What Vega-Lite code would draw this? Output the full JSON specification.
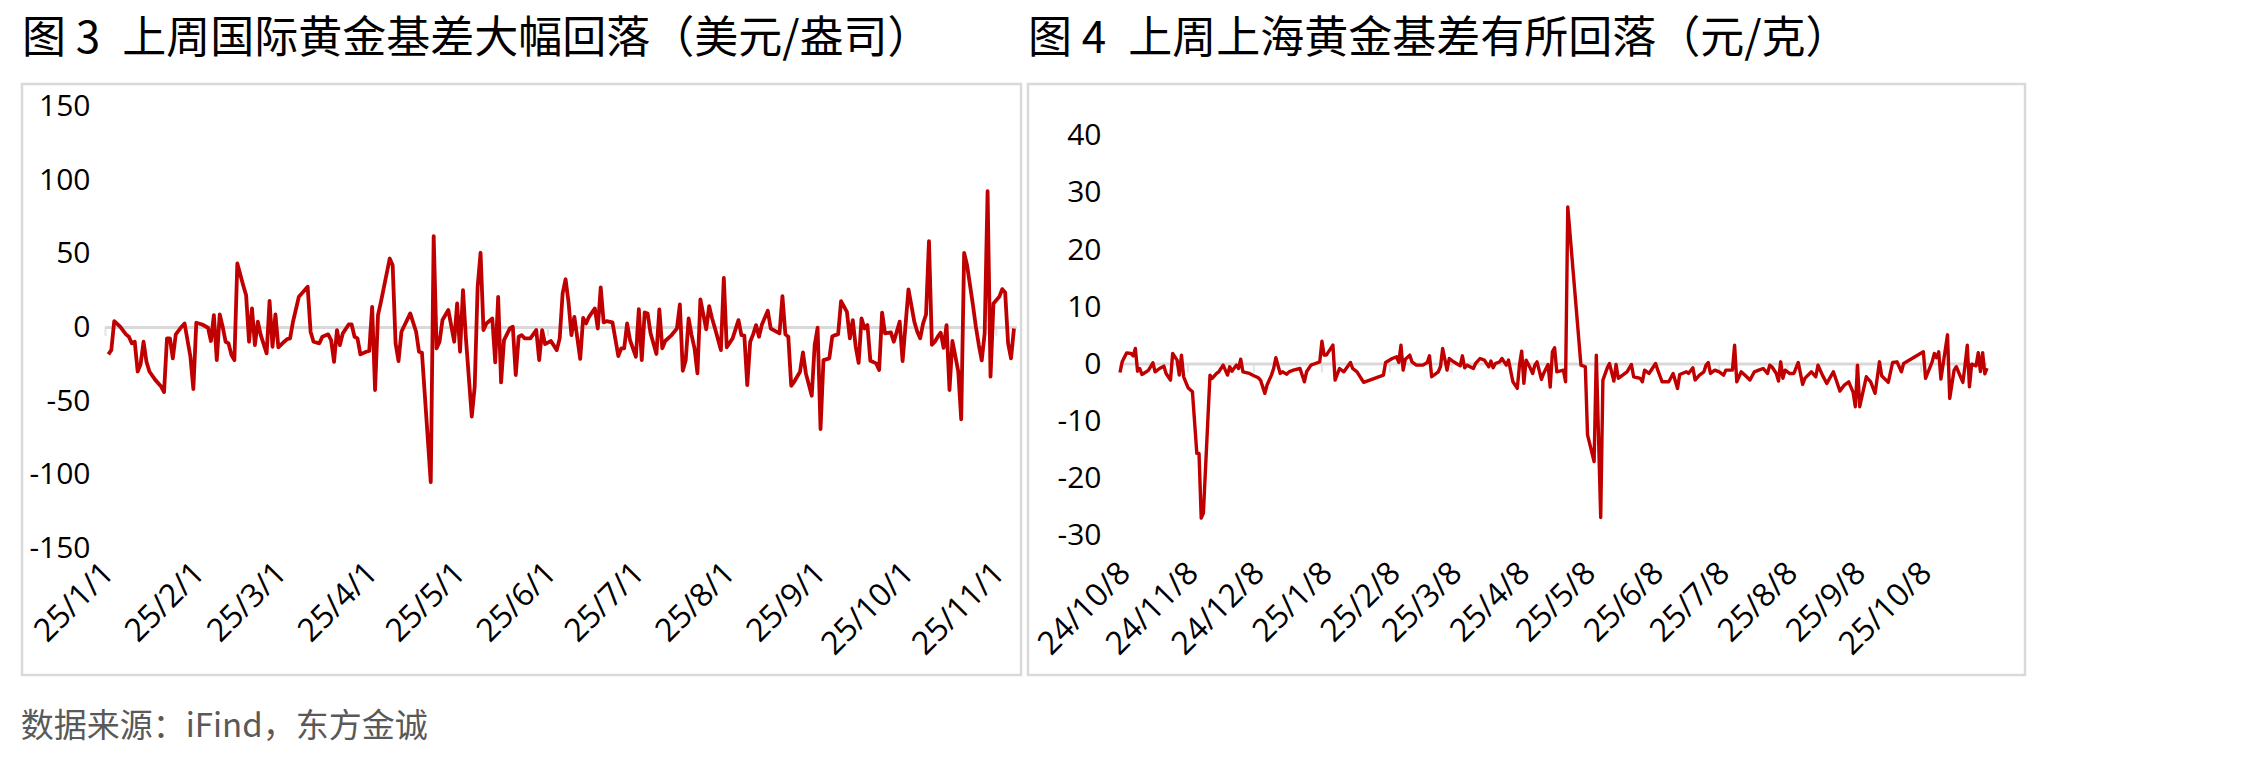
{
  "$schema": "https://vega.github.io/schema/vega-lite/v6.json",
  "background": "white",
  "padding": {"left": 20, "top": 16, "right": 5, "bottom": 5},
  "config": {
    "view": {"stroke": "#d9d9d9", "strokeWidth": 2.5},
    "font": "Noto Sans CJK SC"
  },
  "title": {
    "text": "数据来源：iFind，东方金诚",
    "orient": "bottom",
    "anchor": "start",
    "fontSize": 33,
    "font": "Noto Sans CJK SC",
    "fontWeight": "normal",
    "color": "#595959",
    "offset": 35
  },
  "datasets": {
    "intl": [
      {"date": "2025-01-02", "v": -18.3}, {"date": "2025-01-03", "v": -15.4}, {"date": "2025-01-04", "v": 4.3}, {"date": "2025-01-06", "v": 0.5},
      {"date": "2025-01-08", "v": -4.7}, {"date": "2025-01-09", "v": -6.3}, {"date": "2025-01-10", "v": -10.8}, {"date": "2025-01-11", "v": -9.7},
      {"date": "2025-01-12", "v": -29.9}, {"date": "2025-01-13", "v": -25.0}, {"date": "2025-01-14", "v": -9.7}, {"date": "2025-01-15", "v": -23.3},
      {"date": "2025-01-16", "v": -29.9}, {"date": "2025-01-18", "v": -35.6}, {"date": "2025-01-20", "v": -40.1}, {"date": "2025-01-21", "v": -43.9},
      {"date": "2025-01-22", "v": -7.4}, {"date": "2025-01-23", "v": -7.4}, {"date": "2025-01-24", "v": -21.0}, {"date": "2025-01-25", "v": -4.7},
      {"date": "2025-01-27", "v": 0.5}, {"date": "2025-01-28", "v": 2.7}, {"date": "2025-01-30", "v": -19.9}, {"date": "2025-01-31", "v": -41.8},
      {"date": "2025-02-01", "v": 3.2}, {"date": "2025-02-03", "v": 2.0}, {"date": "2025-02-05", "v": -0.2}, {"date": "2025-02-06", "v": -9.2},
      {"date": "2025-02-07", "v": 8.4}, {"date": "2025-02-08", "v": -22.2}, {"date": "2025-02-09", "v": 8.8}, {"date": "2025-02-10", "v": 0.5},
      {"date": "2025-02-11", "v": -9.7}, {"date": "2025-02-12", "v": -10.8}, {"date": "2025-02-13", "v": -18.7}, {"date": "2025-02-14", "v": -22.2},
      {"date": "2025-02-15", "v": 43.4}, {"date": "2025-02-17", "v": 28.7}, {"date": "2025-02-18", "v": 21.9}, {"date": "2025-02-19", "v": -9.7},
      {"date": "2025-02-20", "v": 12.9}, {"date": "2025-02-21", "v": -12.0}, {"date": "2025-02-22", "v": 3.9}, {"date": "2025-02-23", "v": -5.2},
      {"date": "2025-02-25", "v": -17.6}, {"date": "2025-02-26", "v": 18.1}, {"date": "2025-02-27", "v": -13.1}, {"date": "2025-02-28", "v": 8.8},
      {"date": "2025-03-01", "v": -13.5}, {"date": "2025-03-03", "v": -9.7}, {"date": "2025-03-04", "v": -7.9}, {"date": "2025-03-05", "v": -7.4},
      {"date": "2025-03-06", "v": 3.9}, {"date": "2025-03-08", "v": 20.8}, {"date": "2025-03-11", "v": 27.6}, {"date": "2025-03-12", "v": -2.9},
      {"date": "2025-03-13", "v": -9.7}, {"date": "2025-03-15", "v": -10.8}, {"date": "2025-03-16", "v": -6.3}, {"date": "2025-03-18", "v": -4.7},
      {"date": "2025-03-19", "v": -8.6}, {"date": "2025-03-20", "v": -23.3}, {"date": "2025-03-21", "v": -1.8}, {"date": "2025-03-22", "v": -12.0},
      {"date": "2025-03-23", "v": -4.0}, {"date": "2025-03-25", "v": 2.0}, {"date": "2025-03-26", "v": 2.0}, {"date": "2025-03-27", "v": -6.3},
      {"date": "2025-03-28", "v": -7.4}, {"date": "2025-03-29", "v": -18.3}, {"date": "2025-03-31", "v": -16.5}, {"date": "2025-04-01", "v": -16.0},
      {"date": "2025-04-02", "v": 14.0}, {"date": "2025-04-03", "v": -42.5}, {"date": "2025-04-04", "v": 8.4}, {"date": "2025-04-05", "v": 17.4},
      {"date": "2025-04-08", "v": 46.8}, {"date": "2025-04-09", "v": 42.3}, {"date": "2025-04-10", "v": -10.8}, {"date": "2025-04-11", "v": -22.8},
      {"date": "2025-04-12", "v": -2.9}, {"date": "2025-04-15", "v": 9.5}, {"date": "2025-04-17", "v": -2.9}, {"date": "2025-04-18", "v": -16.5},
      {"date": "2025-04-19", "v": -17.2}, {"date": "2025-04-22", "v": -105.1}, {"date": "2025-04-23", "v": 62.0}, {"date": "2025-04-24", "v": -14.2},
      {"date": "2025-04-25", "v": -9.7}, {"date": "2025-04-26", "v": 5.0}, {"date": "2025-04-28", "v": 11.8}, {"date": "2025-04-30", "v": -9.7},
      {"date": "2025-05-01", "v": 16.3}, {"date": "2025-05-02", "v": -16.5}, {"date": "2025-05-03", "v": 25.4}, {"date": "2025-05-04", "v": -7.4},
      {"date": "2025-05-06", "v": -60.6}, {"date": "2025-05-07", "v": -40.1}, {"date": "2025-05-08", "v": 27.6}, {"date": "2025-05-09", "v": 50.7},
      {"date": "2025-05-10", "v": -1.8}, {"date": "2025-05-11", "v": 2.7}, {"date": "2025-05-13", "v": 6.1}, {"date": "2025-05-14", "v": -23.7},
      {"date": "2025-05-15", "v": 20.8}, {"date": "2025-05-16", "v": -37.3}, {"date": "2025-05-17", "v": -8.6}, {"date": "2025-05-19", "v": -0.7},
      {"date": "2025-05-20", "v": 0.5}, {"date": "2025-05-21", "v": -32.3}, {"date": "2025-05-22", "v": -6.3}, {"date": "2025-05-23", "v": -5.2},
      {"date": "2025-05-24", "v": -7.4}, {"date": "2025-05-26", "v": -7.4}, {"date": "2025-05-28", "v": -1.8}, {"date": "2025-05-29", "v": -22.2},
      {"date": "2025-05-30", "v": -1.8}, {"date": "2025-05-31", "v": -11.3}, {"date": "2025-06-02", "v": -9.2}, {"date": "2025-06-04", "v": -15.4},
      {"date": "2025-06-05", "v": -7.4}, {"date": "2025-06-06", "v": 23.2}, {"date": "2025-06-07", "v": 32.7}, {"date": "2025-06-08", "v": 17.4},
      {"date": "2025-06-09", "v": -5.2}, {"date": "2025-06-10", "v": 7.2}, {"date": "2025-06-12", "v": -21.4}, {"date": "2025-06-13", "v": 6.5},
      {"date": "2025-06-14", "v": 2.7}, {"date": "2025-06-15", "v": 7.2}, {"date": "2025-06-17", "v": 12.9}, {"date": "2025-06-18", "v": -0.7},
      {"date": "2025-06-19", "v": 27.2}, {"date": "2025-06-20", "v": 3.4}, {"date": "2025-06-21", "v": 4.3}, {"date": "2025-06-23", "v": 3.4},
      {"date": "2025-06-25", "v": -19.4}, {"date": "2025-06-26", "v": -14.2}, {"date": "2025-06-27", "v": -14.2}, {"date": "2025-06-28", "v": 2.7},
      {"date": "2025-06-29", "v": -8.6}, {"date": "2025-07-01", "v": -19.9}, {"date": "2025-07-02", "v": 12.4}, {"date": "2025-07-03", "v": -22.2},
      {"date": "2025-07-04", "v": 10.2}, {"date": "2025-07-05", "v": 9.5}, {"date": "2025-07-06", "v": -4.0}, {"date": "2025-07-08", "v": -18.0},
      {"date": "2025-07-09", "v": 12.2}, {"date": "2025-07-10", "v": -14.2}, {"date": "2025-07-11", "v": -9.2}, {"date": "2025-07-13", "v": -5.6},
      {"date": "2025-07-15", "v": -0.7}, {"date": "2025-07-16", "v": 15.6}, {"date": "2025-07-17", "v": -29.4}, {"date": "2025-07-18", "v": -22.2},
      {"date": "2025-07-19", "v": 6.1}, {"date": "2025-07-20", "v": -5.2}, {"date": "2025-07-21", "v": -14.2}, {"date": "2025-07-22", "v": -31.2},
      {"date": "2025-07-23", "v": 19.0}, {"date": "2025-07-25", "v": -1.3}, {"date": "2025-07-26", "v": 14.5}, {"date": "2025-07-27", "v": 6.1},
      {"date": "2025-07-28", "v": -0.7}, {"date": "2025-07-30", "v": -15.4}, {"date": "2025-07-31", "v": 33.7}, {"date": "2025-08-01", "v": -13.5},
      {"date": "2025-08-03", "v": -7.4}, {"date": "2025-08-05", "v": 5.0}, {"date": "2025-08-06", "v": -5.2}, {"date": "2025-08-07", "v": -5.6},
      {"date": "2025-08-08", "v": -39.1}, {"date": "2025-08-09", "v": -9.7}, {"date": "2025-08-10", "v": -4.7}, {"date": "2025-08-11", "v": 1.6},
      {"date": "2025-08-12", "v": -6.3}, {"date": "2025-08-13", "v": 2.0}, {"date": "2025-08-15", "v": 11.3}, {"date": "2025-08-16", "v": -0.7},
      {"date": "2025-08-17", "v": -1.8}, {"date": "2025-08-19", "v": -4.0}, {"date": "2025-08-20", "v": 21.3}, {"date": "2025-08-21", "v": -4.7},
      {"date": "2025-08-22", "v": -6.3}, {"date": "2025-08-23", "v": -39.6}, {"date": "2025-08-24", "v": -36.9}, {"date": "2025-08-26", "v": -30.1},
      {"date": "2025-08-27", "v": -17.0}, {"date": "2025-08-28", "v": -31.2}, {"date": "2025-08-30", "v": -46.4}, {"date": "2025-08-31", "v": -12.0},
      {"date": "2025-09-01", "v": -0.2}, {"date": "2025-09-02", "v": -69.0}, {"date": "2025-09-03", "v": -22.2}, {"date": "2025-09-05", "v": -21.0},
      {"date": "2025-09-06", "v": -6.1}, {"date": "2025-09-07", "v": -5.2}, {"date": "2025-09-08", "v": -4.7}, {"date": "2025-09-09", "v": 17.9},
      {"date": "2025-09-11", "v": 10.6}, {"date": "2025-09-12", "v": -7.4}, {"date": "2025-09-13", "v": 5.0}, {"date": "2025-09-14", "v": -13.1},
      {"date": "2025-09-15", "v": -24.0}, {"date": "2025-09-16", "v": 6.1}, {"date": "2025-09-17", "v": -0.7}, {"date": "2025-09-18", "v": 1.6},
      {"date": "2025-09-19", "v": -22.6}, {"date": "2025-09-21", "v": -24.4}, {"date": "2025-09-22", "v": -28.9}, {"date": "2025-09-23", "v": 10.1},
      {"date": "2025-09-24", "v": -4.0}, {"date": "2025-09-26", "v": -3.4}, {"date": "2025-09-27", "v": -9.7}, {"date": "2025-09-28", "v": -2.9},
      {"date": "2025-09-29", "v": 3.9}, {"date": "2025-09-30", "v": -22.8}, {"date": "2025-10-02", "v": 25.8}, {"date": "2025-10-04", "v": 3.9},
      {"date": "2025-10-05", "v": -2.9}, {"date": "2025-10-06", "v": -7.4}, {"date": "2025-10-07", "v": 2.7}, {"date": "2025-10-08", "v": 8.8},
      {"date": "2025-10-09", "v": 58.6}, {"date": "2025-10-10", "v": -11.8}, {"date": "2025-10-11", "v": -9.7}, {"date": "2025-10-12", "v": -6.3},
      {"date": "2025-10-13", "v": -3.6}, {"date": "2025-10-14", "v": -13.8}, {"date": "2025-10-15", "v": 1.6}, {"date": "2025-10-16", "v": -42.5},
      {"date": "2025-10-17", "v": -9.2}, {"date": "2025-10-19", "v": -30.0}, {"date": "2025-10-20", "v": -62.4}, {"date": "2025-10-21", "v": 50.6},
      {"date": "2025-10-22", "v": 42.3}, {"date": "2025-10-24", "v": 15.2}, {"date": "2025-10-25", "v": 0.5}, {"date": "2025-10-26", "v": -11.8},
      {"date": "2025-10-27", "v": -22.4}, {"date": "2025-10-28", "v": -4.0}, {"date": "2025-10-29", "v": 92.5}, {"date": "2025-10-30", "v": -33.4},
      {"date": "2025-10-31", "v": 16.3}, {"date": "2025-11-02", "v": 20.8}, {"date": "2025-11-03", "v": 26.0}, {"date": "2025-11-04", "v": 23.7},
      {"date": "2025-11-05", "v": -10.8}, {"date": "2025-11-06", "v": -21.0}, {"date": "2025-11-07", "v": -0.7}
    ],
    "sh": [
      {"date": "2024-10-08", "v": -1.47}, {"date": "2024-10-09", "v": 0.4}, {"date": "2024-10-11", "v": 1.96}, {"date": "2024-10-13", "v": 1.85},
      {"date": "2024-10-14", "v": 1.45}, {"date": "2024-10-15", "v": 2.74}, {"date": "2024-10-16", "v": -1.24}, {"date": "2024-10-17", "v": -0.77},
      {"date": "2024-10-18", "v": -1.82}, {"date": "2024-10-20", "v": -1.35}, {"date": "2024-10-21", "v": -1.06}, {"date": "2024-10-23", "v": 0.23},
      {"date": "2024-10-24", "v": -1.35}, {"date": "2024-10-26", "v": -0.77}, {"date": "2024-10-28", "v": -0.36}, {"date": "2024-10-29", "v": -1.64},
      {"date": "2024-10-31", "v": -2.81}, {"date": "2024-11-01", "v": 1.86}, {"date": "2024-11-03", "v": 0.7}, {"date": "2024-11-04", "v": -1.93},
      {"date": "2024-11-05", "v": 1.57}, {"date": "2024-11-06", "v": -2.22}, {"date": "2024-11-08", "v": -4.14}, {"date": "2024-11-10", "v": -4.84},
      {"date": "2024-11-12", "v": -15.65}, {"date": "2024-11-13", "v": -15.65}, {"date": "2024-11-14", "v": -27.0}, {"date": "2024-11-15", "v": -26.1},
      {"date": "2024-11-18", "v": -1.93}, {"date": "2024-11-19", "v": -2.5}, {"date": "2024-11-21", "v": -1.64}, {"date": "2024-11-22", "v": -1.35},
      {"date": "2024-11-23", "v": -0.77}, {"date": "2024-11-24", "v": -0.18}, {"date": "2024-11-26", "v": -1.93}, {"date": "2024-11-27", "v": -0.47},
      {"date": "2024-11-28", "v": -1.24}, {"date": "2024-11-30", "v": -0.18}, {"date": "2024-12-01", "v": -0.77}, {"date": "2024-12-02", "v": 0.87},
      {"date": "2024-12-03", "v": -1.35}, {"date": "2024-12-06", "v": -1.64}, {"date": "2024-12-08", "v": -2.04}, {"date": "2024-12-10", "v": -2.39},
      {"date": "2024-12-11", "v": -2.8}, {"date": "2024-12-13", "v": -5.13}, {"date": "2024-12-14", "v": -3.67}, {"date": "2024-12-16", "v": -1.93},
      {"date": "2024-12-17", "v": -0.77}, {"date": "2024-12-18", "v": 1.11}, {"date": "2024-12-20", "v": -1.64}, {"date": "2024-12-21", "v": -1.35},
      {"date": "2024-12-23", "v": -1.76}, {"date": "2024-12-24", "v": -1.35}, {"date": "2024-12-26", "v": -1.06}, {"date": "2024-12-29", "v": -0.77},
      {"date": "2024-12-31", "v": -3.1}, {"date": "2025-01-01", "v": -1.35}, {"date": "2025-01-03", "v": -0.18}, {"date": "2025-01-05", "v": 0.11},
      {"date": "2025-01-07", "v": 0.4}, {"date": "2025-01-08", "v": 4.02}, {"date": "2025-01-09", "v": 1.57}, {"date": "2025-01-10", "v": 1.57},
      {"date": "2025-01-13", "v": 3.32}, {"date": "2025-01-14", "v": -2.8}, {"date": "2025-01-16", "v": -0.77}, {"date": "2025-01-18", "v": -1.35},
      {"date": "2025-01-21", "v": 0.28}, {"date": "2025-01-22", "v": -0.77}, {"date": "2025-01-24", "v": -1.35}, {"date": "2025-01-27", "v": -3.2},
      {"date": "2025-02-05", "v": -1.93}, {"date": "2025-02-06", "v": 0.28}, {"date": "2025-02-09", "v": 0.98}, {"date": "2025-02-11", "v": 1.27},
      {"date": "2025-02-12", "v": 0.28}, {"date": "2025-02-13", "v": 3.32}, {"date": "2025-02-14", "v": -1.06}, {"date": "2025-02-15", "v": 0.87},
      {"date": "2025-02-17", "v": 1.57}, {"date": "2025-02-18", "v": 0.4}, {"date": "2025-02-20", "v": -0.18}, {"date": "2025-02-23", "v": -0.18},
      {"date": "2025-02-25", "v": 0.28}, {"date": "2025-02-26", "v": 1.45}, {"date": "2025-02-27", "v": -2.22}, {"date": "2025-03-02", "v": -1.35},
      {"date": "2025-03-03", "v": -0.47}, {"date": "2025-03-04", "v": 2.74}, {"date": "2025-03-06", "v": -1.06}, {"date": "2025-03-07", "v": 0.98},
      {"date": "2025-03-09", "v": 0.4}, {"date": "2025-03-11", "v": -0.06}, {"date": "2025-03-12", "v": -0.3}, {"date": "2025-03-13", "v": 1.45},
      {"date": "2025-03-14", "v": -0.65}, {"date": "2025-03-15", "v": -0.18}, {"date": "2025-03-18", "v": -0.77}, {"date": "2025-03-19", "v": 0.11},
      {"date": "2025-03-21", "v": 0.98}, {"date": "2025-03-23", "v": 0.7}, {"date": "2025-03-25", "v": -0.47}, {"date": "2025-03-26", "v": 0.52},
      {"date": "2025-03-27", "v": -0.65}, {"date": "2025-03-28", "v": 0.11}, {"date": "2025-03-30", "v": 0.4}, {"date": "2025-03-31", "v": 0.98},
      {"date": "2025-04-02", "v": -0.18}, {"date": "2025-04-03", "v": 0.7}, {"date": "2025-04-05", "v": -3.1}, {"date": "2025-04-07", "v": -4.26},
      {"date": "2025-04-08", "v": -0.18}, {"date": "2025-04-09", "v": 2.28}, {"date": "2025-04-10", "v": -3.38}, {"date": "2025-04-11", "v": 0.7},
      {"date": "2025-04-13", "v": -0.77}, {"date": "2025-04-14", "v": -1.64}, {"date": "2025-04-15", "v": -0.18}, {"date": "2025-04-16", "v": 0.4},
      {"date": "2025-04-18", "v": -2.69}, {"date": "2025-04-19", "v": -1.64}, {"date": "2025-04-21", "v": -0.06}, {"date": "2025-04-22", "v": -4.03},
      {"date": "2025-04-23", "v": 2.15}, {"date": "2025-04-24", "v": 2.86}, {"date": "2025-04-25", "v": -1.35}, {"date": "2025-04-28", "v": -1.06},
      {"date": "2025-04-29", "v": -3.1}, {"date": "2025-04-30", "v": 27.55}, {"date": "2025-05-06", "v": -0.18}, {"date": "2025-05-08", "v": -0.47},
      {"date": "2025-05-09", "v": -12.4}, {"date": "2025-05-12", "v": -17.07}, {"date": "2025-05-13", "v": 1.57}, {"date": "2025-05-15", "v": -26.9},
      {"date": "2025-05-16", "v": -2.8}, {"date": "2025-05-18", "v": -0.65}, {"date": "2025-05-19", "v": 0.11}, {"date": "2025-05-21", "v": -2.97},
      {"date": "2025-05-22", "v": -0.06}, {"date": "2025-05-23", "v": -2.5}, {"date": "2025-05-25", "v": -1.93}, {"date": "2025-05-27", "v": -1.35},
      {"date": "2025-05-29", "v": -0.06}, {"date": "2025-05-30", "v": -2.22}, {"date": "2025-06-02", "v": -2.5}, {"date": "2025-06-03", "v": -3.1},
      {"date": "2025-06-04", "v": -1.06}, {"date": "2025-06-06", "v": -1.64}, {"date": "2025-06-09", "v": 0.11}, {"date": "2025-06-10", "v": -1.06},
      {"date": "2025-06-12", "v": -3.1}, {"date": "2025-06-15", "v": -3.1}, {"date": "2025-06-17", "v": -1.64}, {"date": "2025-06-19", "v": -4.26},
      {"date": "2025-06-20", "v": -1.82}, {"date": "2025-06-23", "v": -1.35}, {"date": "2025-06-24", "v": -1.64}, {"date": "2025-06-26", "v": -0.65},
      {"date": "2025-06-27", "v": -2.8}, {"date": "2025-06-29", "v": -1.93}, {"date": "2025-07-01", "v": -1.35}, {"date": "2025-07-02", "v": -0.18},
      {"date": "2025-07-03", "v": 0.28}, {"date": "2025-07-04", "v": -1.64}, {"date": "2025-07-06", "v": -1.06}, {"date": "2025-07-08", "v": -1.35},
      {"date": "2025-07-10", "v": -1.93}, {"date": "2025-07-11", "v": -1.06}, {"date": "2025-07-14", "v": -1.06}, {"date": "2025-07-15", "v": 3.33},
      {"date": "2025-07-16", "v": -3.1}, {"date": "2025-07-18", "v": -1.35}, {"date": "2025-07-20", "v": -2.04}, {"date": "2025-07-22", "v": -2.8},
      {"date": "2025-07-24", "v": -1.35}, {"date": "2025-07-26", "v": -1.06}, {"date": "2025-07-28", "v": -0.77}, {"date": "2025-07-30", "v": -1.64},
      {"date": "2025-07-31", "v": -0.18}, {"date": "2025-08-01", "v": -0.47}, {"date": "2025-08-03", "v": -1.64}, {"date": "2025-08-04", "v": -2.97},
      {"date": "2025-08-05", "v": 0.4}, {"date": "2025-08-06", "v": -2.5}, {"date": "2025-08-07", "v": -1.06}, {"date": "2025-08-09", "v": -1.64},
      {"date": "2025-08-11", "v": -1.64}, {"date": "2025-08-13", "v": 0.28}, {"date": "2025-08-15", "v": -3.56}, {"date": "2025-08-16", "v": -2.5},
      {"date": "2025-08-19", "v": -1.35}, {"date": "2025-08-21", "v": -2.22}, {"date": "2025-08-22", "v": -0.18}, {"date": "2025-08-24", "v": -1.93},
      {"date": "2025-08-26", "v": -3.38}, {"date": "2025-08-29", "v": -1.35}, {"date": "2025-09-01", "v": -4.73}, {"date": "2025-09-03", "v": -3.68},
      {"date": "2025-09-05", "v": -3.1}, {"date": "2025-09-07", "v": -4.96}, {"date": "2025-09-08", "v": -7.47}, {"date": "2025-09-09", "v": -0.18},
      {"date": "2025-09-10", "v": -7.47}, {"date": "2025-09-13", "v": -2.22}, {"date": "2025-09-15", "v": -3.1}, {"date": "2025-09-17", "v": -5.13},
      {"date": "2025-09-19", "v": 0.4}, {"date": "2025-09-20", "v": -2.04}, {"date": "2025-09-23", "v": -3.21}, {"date": "2025-09-25", "v": 0.28},
      {"date": "2025-09-27", "v": 0.4}, {"date": "2025-09-29", "v": -1.35}, {"date": "2025-09-30", "v": 0.11}, {"date": "2025-10-09", "v": 2.15},
      {"date": "2025-10-10", "v": -2.5}, {"date": "2025-10-13", "v": 0.4}, {"date": "2025-10-14", "v": 1.86}, {"date": "2025-10-15", "v": 1.1},
      {"date": "2025-10-16", "v": 2.15}, {"date": "2025-10-17", "v": -2.62}, {"date": "2025-10-20", "v": 5.13}, {"date": "2025-10-21", "v": -6.01},
      {"date": "2025-10-23", "v": -1.06}, {"date": "2025-10-24", "v": -0.47}, {"date": "2025-10-27", "v": -3.21}, {"date": "2025-10-28", "v": -0.18},
      {"date": "2025-10-29", "v": 3.3}, {"date": "2025-10-30", "v": -4.0}, {"date": "2025-10-31", "v": 0.0}, {"date": "2025-11-02", "v": -0.3},
      {"date": "2025-11-03", "v": 2.0}, {"date": "2025-11-04", "v": -1.3}, {"date": "2025-11-05", "v": 2.0}, {"date": "2025-11-06", "v": -1.7},
      {"date": "2025-11-07", "v": -0.7}
    ],
    "intlZero": [{"date": "2025-01-01", "date2": "2025-11-08", "v": 0}],
    "shZero": [{"date": "2024-10-08", "date2": "2025-11-07", "v": 0}],
    "intlTicks": [
      {"date": "2025-01-01", "v": 0}, {"date": "2025-02-01", "v": 0}, {"date": "2025-03-01", "v": 0}, {"date": "2025-04-01", "v": 0},
      {"date": "2025-05-01", "v": 0}, {"date": "2025-06-01", "v": 0}, {"date": "2025-07-01", "v": 0}, {"date": "2025-08-01", "v": 0},
      {"date": "2025-09-01", "v": 0}, {"date": "2025-10-01", "v": 0}, {"date": "2025-11-01", "v": 0}
    ],
    "shTicks": [
      {"date": "2024-10-08", "v": 0}, {"date": "2024-11-08", "v": 0}, {"date": "2024-12-08", "v": 0}, {"date": "2025-01-08", "v": 0},
      {"date": "2025-02-08", "v": 0}, {"date": "2025-03-08", "v": 0}, {"date": "2025-04-08", "v": 0}, {"date": "2025-05-08", "v": 0},
      {"date": "2025-06-08", "v": 0}, {"date": "2025-07-08", "v": 0}, {"date": "2025-08-08", "v": 0}, {"date": "2025-09-08", "v": 0},
      {"date": "2025-10-08", "v": 0}
    ]
  },
  "spacing": 3,
  "hconcat": [
    {
      "title": {
        "text": "图 3\u2002上周国际黄金基差大幅回落（美元/盎司）",
        "anchor": "start",
        "fontSize": 44,
        "font": "Noto Sans CJK SC",
        "fontWeight": "normal",
        "color": "#000000",
        "offset": 22
      },
      "width": 999,
      "height": 591,
      "encoding": {
        "x": {
          "field": "date",
          "type": "temporal",
          "scale": {
            "type": "utc",
            "nice": false,
            "domain": [
              {"year": 2024, "month": 12, "date": 3, "hours": 12, "minutes": 43, "utc": true},
              {"year": 2025, "month": 11, "date": 9, "hours": 9, "minutes": 36, "utc": true}
            ]
          },
          "axis": {
            "title": null,
            "values": [
              {"year": 2025, "month": 1, "date": 1, "utc": true}, {"year": 2025, "month": 2, "date": 1, "utc": true},
              {"year": 2025, "month": 3, "date": 1, "utc": true}, {"year": 2025, "month": 4, "date": 1, "utc": true},
              {"year": 2025, "month": 5, "date": 1, "utc": true}, {"year": 2025, "month": 6, "date": 1, "utc": true},
              {"year": 2025, "month": 7, "date": 1, "utc": true}, {"year": 2025, "month": 8, "date": 1, "utc": true},
              {"year": 2025, "month": 9, "date": 1, "utc": true}, {"year": 2025, "month": 10, "date": 1, "utc": true},
              {"year": 2025, "month": 11, "date": 1, "utc": true}
            ],
            "labelExpr": "utcFormat(datum.value, '%y/%-m/%-d')",
            "labelAngle": -45,
            "labelAlign": "right",
            "labelBaseline": "top",
            "labelFont": "Open Sans",
            "labelFontSize": 32,
            "labelColor": "#000000",
            "labelPadding": 0,
            "labelOffset": -8,
            "labelOverlap": false,
            "labelFlush": false,
            "labelBound": false,
            "ticks": false,
            "domain": false,
            "grid": false,
            "offset": -118
          }
        },
        "y": {
          "field": "v",
          "type": "quantitative",
          "scale": {"domain": [-236, 165.3], "nice": false, "zero": false},
          "axis": {
            "title": null,
            "values": [-150, -100, -50, 0, 50, 100, 150],
            "labelExpr": "'' + datum.value",
            "labelFont": "Open Sans",
            "labelFontSize": 30,
            "labelColor": "#000000",
            "labelPadding": 0,
            "ticks": false,
            "domain": false,
            "grid": false,
            "offset": -68
          }
        }
      },
      "layer": [
        {
          "data": {"name": "intlZero"},
          "mark": {"type": "rule", "color": "#d9d9d9", "strokeWidth": 3},
          "encoding": {"x2": {"field": "date2"}}
        },
        {
          "data": {"name": "intlTicks"},
          "mark": {"type": "tick", "orient": "vertical", "size": 9, "thickness": 2, "color": "#d9d9d9", "yOffset": 4}
        },
        {
          "data": {"name": "intl"},
          "mark": {"type": "line", "color": "#C00000", "strokeWidth": 3.8, "strokeJoin": "round"}
        }
      ]
    },
    {
      "title": {
        "text": "图 4\u2002上周上海黄金基差有所回落（元/克）",
        "anchor": "start",
        "fontSize": 44,
        "font": "Noto Sans CJK SC",
        "fontWeight": "normal",
        "color": "#000000",
        "offset": 22
      },
      "width": 997,
      "height": 591,
      "encoding": {
        "x": {
          "field": "date",
          "type": "temporal",
          "scale": {
            "type": "utc",
            "nice": false,
            "domain": [
              {"year": 2024, "month": 8, "date": 27, "hours": 2, "minutes": 10, "utc": true},
              {"year": 2025, "month": 11, "date": 24, "hours": 7, "minutes": 12, "utc": true}
            ]
          },
          "axis": {
            "title": null,
            "values": [
              {"year": 2024, "month": 10, "date": 8, "utc": true}, {"year": 2024, "month": 11, "date": 8, "utc": true},
              {"year": 2024, "month": 12, "date": 8, "utc": true}, {"year": 2025, "month": 1, "date": 8, "utc": true},
              {"year": 2025, "month": 2, "date": 8, "utc": true}, {"year": 2025, "month": 3, "date": 8, "utc": true},
              {"year": 2025, "month": 4, "date": 8, "utc": true}, {"year": 2025, "month": 5, "date": 8, "utc": true},
              {"year": 2025, "month": 6, "date": 8, "utc": true}, {"year": 2025, "month": 7, "date": 8, "utc": true},
              {"year": 2025, "month": 8, "date": 8, "utc": true}, {"year": 2025, "month": 9, "date": 8, "utc": true},
              {"year": 2025, "month": 10, "date": 8, "utc": true}
            ],
            "labelExpr": "utcFormat(datum.value, '%y/%-m/%-d')",
            "labelAngle": -45,
            "labelAlign": "right",
            "labelBaseline": "top",
            "labelFont": "Open Sans",
            "labelFontSize": 32,
            "labelColor": "#000000",
            "labelPadding": 0,
            "labelOffset": -6,
            "labelOverlap": false,
            "labelFlush": false,
            "labelBound": false,
            "ticks": false,
            "domain": false,
            "grid": false,
            "offset": -118
          }
        },
        "y": {
          "field": "v",
          "type": "quantitative",
          "scale": {"domain": [-54.5, 49.1], "nice": false, "zero": false},
          "axis": {
            "title": null,
            "values": [-30, -20, -10, 0, 10, 20, 30, 40],
            "labelExpr": "'' + datum.value",
            "labelFont": "Open Sans",
            "labelFontSize": 30,
            "labelColor": "#000000",
            "labelPadding": 0,
            "ticks": false,
            "domain": false,
            "grid": false,
            "offset": -73
          }
        }
      },
      "layer": [
        {
          "data": {"name": "shZero"},
          "mark": {"type": "rule", "color": "#d9d9d9", "strokeWidth": 3},
          "encoding": {"x2": {"field": "date2"}}
        },
        {
          "data": {"name": "shTicks"},
          "mark": {"type": "tick", "orient": "vertical", "size": 9, "thickness": 2, "color": "#d9d9d9", "yOffset": 4}
        },
        {
          "data": {"name": "sh"},
          "mark": {"type": "line", "color": "#C00000", "strokeWidth": 3.4, "strokeJoin": "round"}
        }
      ]
    }
  ]
}
